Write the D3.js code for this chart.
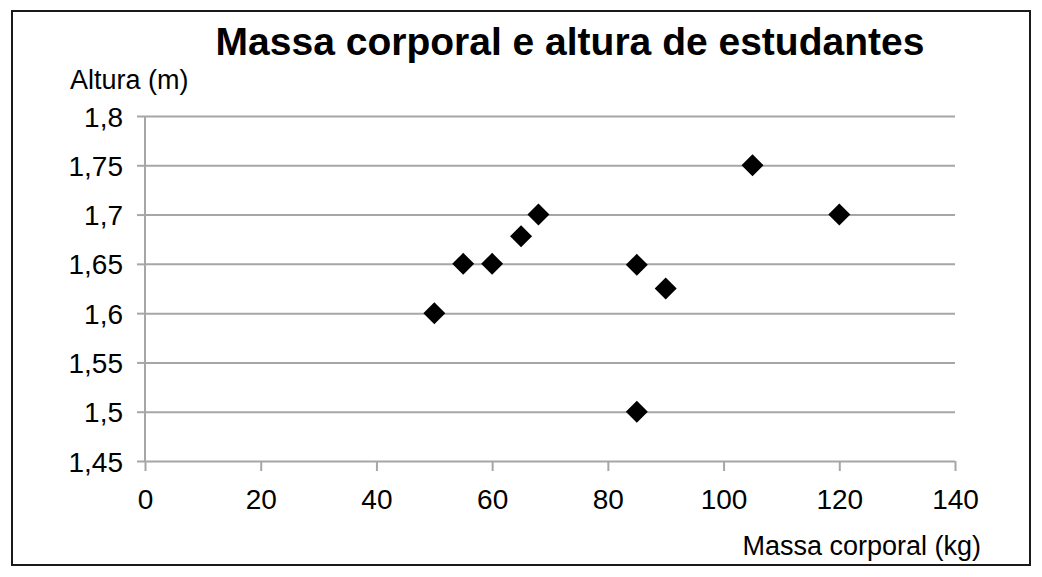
<!DOCTYPE html>
<html>
<head>
<meta charset="utf-8">
<script src="https://cdn.jsdelivr.net/npm/d3@7"></script>
<style>
  body { margin: 0; background: #fff; }
  svg text { font-family: "Liberation Sans", Arial, sans-serif; fill: #000; }
</style>
</head>
<body>
<div id="chart"></div>
<script>
// data
const massa = [50, 55, 60, 65, 68, 85, 90, 85, 105, 120];
const altura = [1.6, 1.65, 1.65, 1.678, 1.7, 1.649, 1.625, 1.5, 1.75, 1.7];
const xTicks = [0, 20, 40, 60, 80, 100, 120, 140];
const yTicks = [1.45, 1.5, 1.55, 1.6, 1.65, 1.7, 1.75, 1.8];

const width = 1042, height = 577;
const margin = { top: 116, right: 87, bottom: 116, left: 145 };
const gridColor = '#a6a6a6';

const svg = d3.select('#chart').append('svg')
    .attr('width', width)
    .attr('height', height);

// outer frame
svg.append('rect')
    .attr('x', 12).attr('y', 11)
    .attr('width', 1018).attr('height', 554)
    .attr('fill', 'none')
    .attr('stroke', '#1a1a1a')
    .attr('stroke-width', 2);

const x = d3.scaleLinear()
    .domain([0, 140])
    .range([margin.left, width - margin.right]);

const y = d3.scaleLinear()
    .domain([1.45, 1.8])
    .range([height - margin.bottom, margin.top]);

const fmt = d => String(d).replace('.', ',');

// horizontal grid + y axis
const yAxis = svg.append('g')
    .attr('transform', 'translate(' + margin.left + ',0)')
    .call(d3.axisLeft(y).tickValues(yTicks).tickFormat(fmt)
        .tickSize(8).tickPadding(14));
yAxis.select('.domain').attr('stroke', gridColor).attr('stroke-width', 2)
    .attr('d', 'M0,' + y(1.8) + 'V' + y(1.45));
yAxis.selectAll('.tick line').attr('stroke', gridColor).attr('stroke-width', 2)
    .attr('x1', 0).attr('x2', x(140) - margin.left);
yAxis.selectAll('.tick')
    .append('line')
    .attr('x1', -8).attr('x2', 0)
    .attr('stroke', gridColor).attr('stroke-width', 2);
yAxis.selectAll('.tick text')
    .attr('font-size', 28)
    .attr('dy', '0.36em');

// x axis
const xAxis = svg.append('g')
    .attr('transform', 'translate(0,' + y(1.45) + ')')
    .call(d3.axisBottom(x).tickValues(xTicks).tickFormat(d3.format('d'))
        .tickSize(10).tickPadding(18));
xAxis.select('.domain').remove();
xAxis.selectAll('.tick line').attr('stroke', gridColor).attr('stroke-width', 2);
xAxis.selectAll('.tick text')
    .attr('font-size', 28)
    .attr('dy', '0.71em');
yAxis.selectAll('text').attr('font-family', '"Liberation Sans", Arial, sans-serif');
xAxis.selectAll('text').attr('font-family', '"Liberation Sans", Arial, sans-serif');

// points
svg.append('g')
    .selectAll('path')
    .data(massa.map((m, i) => ({ m: m, a: altura[i] })))
    .join('path')
    .attr('transform', d => 'translate(' + x(d.m) + ',' + y(d.a) + ')')
    .attr('d', 'M0,-11L11,0L0,11L-11,0Z')
    .attr('fill', '#000');

// texts
svg.append('text')
    .attr('x', 570).attr('y', 55)
    .attr('text-anchor', 'middle')
    .attr('font-size', 39)
    .attr('font-weight', 'bold')
    .text('Massa corporal e altura de estudantes');

svg.append('text')
    .attr('x', 70).attr('y', 89)
    .attr('font-size', 27)
    .text('Altura (m)');

svg.append('text')
    .attr('x', 981).attr('y', 555)
    .attr('text-anchor', 'end')
    .attr('font-size', 27)
    .text('Massa corporal (kg)');
</script>
</body>
</html>
